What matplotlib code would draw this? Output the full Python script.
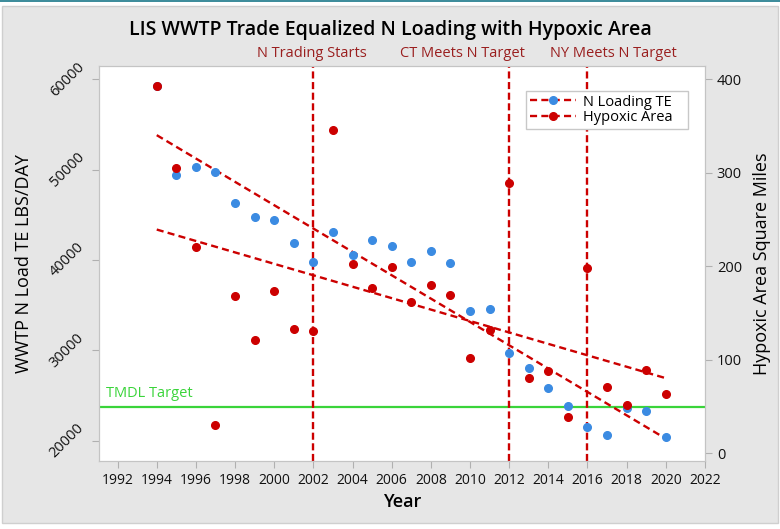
import numpy as np
import matplotlib.pyplot as plt
from matplotlib.lines import Line2D
from matplotlib.patches import Rectangle

plt.rcParams['font.family'] = ['Open Sans', 'DejaVu Sans']

years = np.arange(1994, 2021)
n_load = [59260, 49440, 50290, 49710, 46340, 44790, 44430, 41920, 39750,
          43130, 40520, 42180, 41580, 39750, 40960, 39670, 34390, 34610,
          29740, 28050, 25800, 23870, 21480, 20630, 23650, 23250, 20380]
hypoxic = [392.5, 304.9, 220.5, 29.9, 168.4, 121.1, 173.1, 132.8, 130.7,
           345.2, 202.0, 176.6, 198.8, 161.7, 180.2, 168.8, 101.5, 131.4,
           288.5, 80.8, 87.9, 38.5, 198.3, 70.5, 51.9, 89.0, 63.7]
event_years = [2002, 2012, 2016]
event_labels = ["N Trading Starts", "CT Meets N Target", "NY Meets N Target"]
event_label_x = [2001.9, 2009.6, 2017.3]
tmdl_target = 23700

blue = '#3b8be2'
red = '#cc0000'
dark_red = '#9a1f1f'
green = '#3ad43a'

fig = plt.figure(figsize=(7.8, 5.29), dpi=100)
fig.patches.append(Rectangle((0.003, 0.012), 0.994, 0.976, transform=fig.transFigure,
                             facecolor='#e6e6e6', edgecolor='#cfcfcf', lw=1, zorder=-5))
fig.patches.append(Rectangle((0, 0.996), 1, 0.004, transform=fig.transFigure,
                             facecolor='#3f8d9c', edgecolor='none', zorder=-4))

ax = fig.add_axes([0.1269, 0.1285, 0.7769, 0.7467])
ax2 = ax.twinx()

ax.set_xlim(1991.05, 2022)
ax.set_ylim(17750, 61470)
ax2.set_ylim(-8.5, 414)

yrs = np.array(years)
p1 = np.polyfit(yrs, n_load, 1)
p2 = np.polyfit(yrs, hypoxic, 1)
fx = np.array([years[0], years[-1]])

ax.axhline(tmdl_target, color=green, lw=1.6, zorder=1)
ax.text(1991.4, tmdl_target + 700, "TMDL Target", color=green, fontsize=10.5,
        va='bottom', ha='left')

ax.plot(yrs, n_load, 'o', color=blue, ms=5.5, zorder=3)
ax.plot(fx, np.polyval(p1, fx), '--', color=red, lw=1.7, dashes=(3, 1.8), zorder=2)

ax2.plot(fx, np.polyval(p2, fx), '--', color=red, lw=1.7, dashes=(3, 1.8), zorder=2)
ax2.plot(yrs, hypoxic, 'o', color=red, ms=5.5, zorder=3)

for yr, lab, lx in zip(event_years, event_labels, event_label_x):
    ax.axvline(yr, color=red, lw=1.7, dashes=(3, 1.5), zorder=2)
    ax.text(lx, 1.012, lab, transform=ax.get_xaxis_transform(), color=dark_red,
            fontsize=10.5, ha='center', va='bottom')

ax.set_xticks(np.arange(1992, 2023, 2))
ax.set_yticks([20000, 30000, 40000, 50000, 60000])
ax2.set_yticks([0, 100, 200, 300, 400])
for lab in ax.get_yticklabels():
    lab.set_rotation(45)
    lab.set_va('center')
    lab.set_ha('right')

for a in (ax, ax2):
    for s in a.spines.values():
        s.set_color('#c4c4c4')
    a.tick_params(colors='#b0b0b0', labelcolor='#111111', labelsize=10, length=5)
ax.tick_params(axis='y', labelsize=10.5)
ax2.tick_params(axis='y', labelsize=10.5)

ax.set_xlabel("Year", fontsize=13, fontweight='semibold', labelpad=4)
ax.set_ylabel("WWTP N Load TE LBS/DAY", fontsize=13, labelpad=10)
ax2.set_ylabel("Hypoxic Area Square Miles", fontsize=13, labelpad=8)

fig.text(0.5, 0.943, "LIS WWTP Trade Equalized N Loading with Hypoxic Area",
         ha='center', va='center', fontsize=14, fontweight='semibold')

handles = [
    Line2D([], [], color=red, ls='--', dashes=(3, 1.8), lw=1.7, marker='o',
           mfc=blue, mec=blue, ms=5.5),
    Line2D([], [], color=red, ls='--', dashes=(3, 1.8), lw=1.7, marker='o',
           mfc=red, mec=red, ms=5.5),
]
leg = ax2.legend(handles, ["N Loading TE   ", "Hypoxic Area   "], loc='upper right',
                 bbox_to_anchor=(0.972, 0.937), borderaxespad=0, fontsize=10.5,
                 fancybox=False, framealpha=1, edgecolor='#c8c8c8', handlelength=3.2,
                 borderpad=0.25, labelspacing=0.05, handletextpad=0.5)

fig.savefig('out.png', dpi=100)
